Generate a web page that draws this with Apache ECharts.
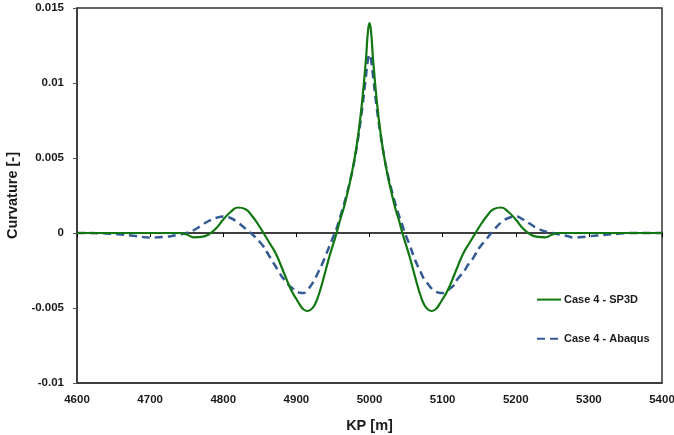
<!DOCTYPE html>
<html>
<head>
<meta charset="utf-8">
<script src="https://cdn.jsdelivr.net/npm/echarts@6/dist/echarts.min.js"></script>
<style>
html,body{margin:0;padding:0;background:#fff;}
#chart{width:674px;height:435px;}
</style>
</head>
<body>
<div id="chart"></div>
<script>
// KP positions [m]
const kp = [
  4600,4640,4660,4680,4700,4710,4720,4730,4740,4750,4760,4770,4780,4790,4800,4810,4820,4830,4840,
  4850,4855,4860,4865,4870,4875,4880,4885,4890,4895,4900,4905,4910,4915,4920,4925,4930,4935,4940,4945,4950,4955,4960,4965,4970,4975,4980,4985,4990,4995,
  4998,5000,5002,
  5005,5010,5015,5020,5025,5030,5035,5040,5045,5050,5055,5060,5065,5070,5075,5080,5085,5090,5095,5100,5105,5110,5115,5120,5125,5130,5135,5140,5145,5150,
  5160,5170,5180,5190,5200,5210,5220,5230,5240,5250,5260,5270,5280,5290,5300,
  5320,5340,5360,5400];

// Case 4 - SP3D curvature
const sp3d = [
  0,0,0,0,0,0,0,0,0,-0.0001,-0.00029,-0.00026,-0.0001,0.0003,0.0009,0.0014,0.0017,0.0016,0.0011,
  0.0004,0,-0.0004,-0.0008,-0.0012,-0.0017,-0.0023,-0.0029,-0.0035,-0.0040,-0.0044,-0.0048,-0.0051,-0.0052,-0.0051,-0.0048,-0.0042,-0.0034,-0.0025,-0.0016,-0.0008,0,0.0009,0.0017,0.0027,0.0038,0.0051,0.0067,0.0088,0.0115,
  0.0135,0.0140,0.0135,
  0.0115,0.0088,0.0067,0.0051,0.0038,0.0027,0.0017,0.0009,0,-0.0008,-0.0016,-0.0025,-0.0034,-0.0042,-0.0048,-0.0051,-0.0052,-0.0051,-0.0048,-0.0044,-0.0040,-0.0035,-0.0029,-0.0023,-0.0017,-0.0012,-0.0008,-0.0004,0,0.0004,
  0.0011,0.0016,0.0017,0.0014,0.0009,0.0003,-0.0001,-0.00026,-0.00029,-0.0001,0,0,0,0,0,
  0,0,0,0];

// Case 4 - Abaqus curvature
const abaqus = [
  0,-0.00003,-0.0001,-0.0002,-0.0003,-0.00029,-0.00026,-0.0002,-0.0001,0,0.0002,0.0005,0.0008,0.0010,0.0011,0.0010,0.0007,0.0003,-0.0001,
  -0.0006,-0.0009,-0.0013,-0.0017,-0.0021,-0.0025,-0.0029,-0.0032,-0.0035,-0.0037,-0.0039,-0.00398,-0.0040,-0.0038,-0.0035,-0.0031,-0.0026,-0.0021,-0.0015,-0.0009,-0.0003,0.0003,0.0011,0.0019,0.0028,0.0038,0.0050,0.0065,0.0083,0.0104,
  0.0116,0.0119,0.0116,
  0.0104,0.0083,0.0066,0.0051,0.0039,0.0029,0.0020,0.0012,0.0005,-0.0002,-0.0008,-0.0015,-0.0021,-0.0026,-0.0031,-0.0034,-0.0037,-0.0039,-0.00398,-0.0040,-0.0039,-0.0037,-0.0035,-0.0031,-0.0028,-0.0025,-0.0021,-0.0018,-0.0014,-0.0010,
  -0.0004,0.0002,0.0007,0.0010,0.0011,0.0009,0.0006,0.0003,0.0001,0,-0.0001,-0.0002,-0.0003,-0.00027,-0.00022,
  -0.00013,-0.00005,0,0];

const xTicks = {min: 4600, max: 5400, interval: 100};
const yTicks = {min: -0.01, max: 0.015, interval: 0.005};

const chart = echarts.init(document.getElementById('chart'));
const txt = '#1a1a1a';
const font = 'Liberation Sans, Arial, sans-serif';
chart.setOption({
  animation: false,
  grid: {left: 77, right: 12, top: 8, bottom: 52, outerBoundsMode: 'none', containLabel: false,
         show: true, borderColor: '#333', borderWidth: 1.5, backgroundColor: 'transparent'},
  legend: {
    orient: 'vertical', left: 536, top: 294, padding: 0, itemWidth: 24, itemHeight: 14, itemGap: 28,
    itemStyle: {opacity: 0},
    textStyle: {fontFamily: font, fontWeight: 'bold', fontSize: 11, color: txt, padding: [0,0,0,-2]},
    data: ['Case 4 - SP3D', 'Case 4 - Abaqus']
  },
  xAxis: [
    {type: 'value', min: xTicks.min, max: xTicks.max, interval: xTicks.interval,
     axisLine: {onZero: true, lineStyle: {color: '#000', width: 1.5}},
     axisTick: {show: true, inside: false, length: 4, lineStyle: {color: '#000', width: 1}},
     axisLabel: {show: false}, splitLine: {show: false}},
    {type: 'value', position: 'bottom', min: xTicks.min, max: xTicks.max, interval: xTicks.interval,
     name: 'KP [m]', nameLocation: 'middle', nameGap: 35,
     nameTextStyle: {fontFamily: font, fontWeight: 'bold', fontSize: 14.5, color: txt},
     axisLine: {onZero: false, show: true, lineStyle: {color: '#333', width: 1.5}},
     axisTick: {show: false},
     axisLabel: {fontFamily: font, fontWeight: 'bold', fontSize: 11.5, color: txt, margin: 11,
                 formatter: v => String(v)},
     splitLine: {show: false}}
  ],
  yAxis: {
    type: 'value', min: yTicks.min, max: yTicks.max, interval: yTicks.interval,
    name: 'Curvature [-]', nameLocation: 'middle', nameGap: 54, nameRotate: 90,
    nameTextStyle: {fontFamily: font, fontWeight: 'bold', fontSize: 14.5, color: txt},
    axisLine: {show: true, lineStyle: {color: '#333', width: 1.5}},
    axisTick: {show: true, inside: false, length: 4, lineStyle: {color: '#555'}},
    axisLabel: {fontFamily: font, fontWeight: 'bold', fontSize: 11.5, color: txt, margin: 13},
    splitLine: {show: false}
  },
  series: [
    {name: 'Case 4 - SP3D', type: 'line', xAxisIndex: 0, smooth: 0.5, showSymbol: false, symbol: 'none',
     lineStyle: {color: '#117711', width: 2.2}, itemStyle: {color: '#117711'},
     data: kp.map((k, i) => [k, sp3d[i]]), z: 3},
    {name: 'Case 4 - Abaqus', type: 'line', xAxisIndex: 0, smooth: 0.5, showSymbol: false, symbol: 'none',
     lineStyle: {color: '#335A94', width: 2.5, type: [8, 5]}, itemStyle: {color: '#335A94'},
     data: kp.map((k, i) => [k, abaqus[i]]), z: 2}
  ]
});
</script>
</body>
</html>
